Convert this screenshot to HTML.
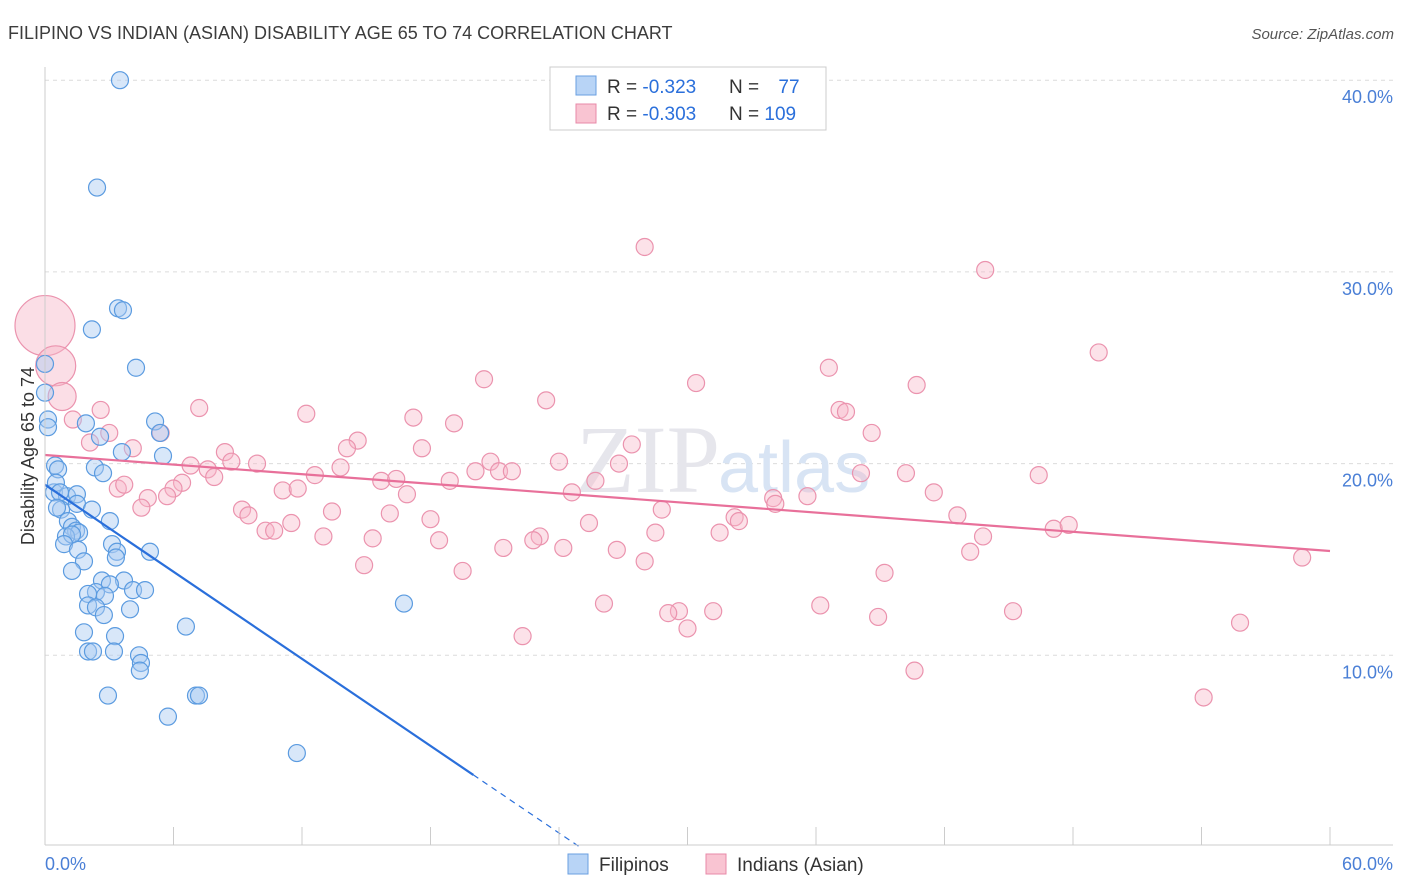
<!DOCTYPE html>
<html><head><meta charset="utf-8"><style>
body{margin:0;background:#fff;font-family:"Liberation Sans",sans-serif;}
svg{display:block}
</style></head><body>
<svg id="chart" width="1406" height="892" xmlns="http://www.w3.org/2000/svg">
<text x="8" y="39" font-size="18" fill="#3c3c3c">FILIPINO VS INDIAN (ASIAN) DISABILITY AGE 65 TO 74 CORRELATION CHART</text>
<text x="1394" y="39" font-size="15" fill="#555" font-style="italic" text-anchor="end">Source: ZipAtlas.com</text>
<g id="grid"></g>
<text x="720" y="492" font-size="96" fill="#e6e6ec" text-anchor="end" font-family="Liberation Serif, serif">ZIP</text>
<text x="718" y="492" font-size="72" fill="#d8e4f4">atlas</text>
<g id="pts"></g>
<g id="lines"></g>
<g id="axes"></g>
<text transform="translate(34,456) rotate(-90)" font-size="18" fill="#333" text-anchor="middle">Disability Age 65 to 74</text>
<text x="45" y="870" font-size="18" fill="#4a7fd6">0.0%</text>
<text x="1393" y="870" font-size="18" fill="#4a7fd6" text-anchor="end">60.0%</text>
<g>
<rect x="550" y="67" width="276" height="63" fill="#fff" stroke="#ccc"/>
<rect x="576" y="76" width="20" height="19" fill="#b8d4f6" stroke="#6a9fe0"/>
<rect x="576" y="104" width="20" height="19" fill="#f9c4d2" stroke="#e88aa8"/>
<text x="607" y="93" font-size="19" fill="#333">R = <tspan fill="#2a6fdb">-0.323</tspan></text>
<text x="729" y="93" font-size="19" fill="#333">N = <tspan fill="#2a6fdb" dx="14">77</tspan></text>
<text x="607" y="120" font-size="19" fill="#333">R = <tspan fill="#2a6fdb">-0.303</tspan></text>
<text x="729" y="120" font-size="19" fill="#333">N = <tspan fill="#2a6fdb">109</tspan></text>
</g>
<g>
<rect x="568" y="854" width="20" height="20" fill="#b8d4f6" stroke="#6a9fe0"/>
<text x="599" y="871" font-size="19" fill="#333">Filipinos</text>
<rect x="706" y="854" width="20" height="20" fill="#f9c4d2" stroke="#e88aa8"/>
<text x="737" y="871" font-size="19" fill="#333">Indians (Asian)</text>
</g>
</svg>
<script>
const yTicks=[10,20,30,40];
const yTickLabels=["10.0%","20.0%","30.0%","40.0%"];
const blueX=[3.5,2.43,3.41,3.64,2.19,4.25,0,0,0.14,0.14,5.14,5.37,1.91,2.57,3.59,5.51,0.47,0.61,2.33,2.71,0.42,1.03,1.49,0.51,0.7,0.75,0.56,1.49,2.19,3.03,1.07,1.26,1.45,1.59,0.98,1.26,0.89,1.54,1.82,3.13,3.36,3.31,4.9,1.26,2.66,3.69,3.03,2.38,2.01,2.8,4.11,4.67,2.01,2.38,3.97,2.75,1.82,3.27,6.58,16.76,2.01,2.24,3.22,4.39,4.48,4.43,2.94,7.05,7.19,5.74,11.76];
const blueY=[40,34.4,28.1,28,27,25,25.2,23.7,22.3,21.9,22.2,21.6,22.1,21.4,20.6,20.4,19.9,19.7,19.8,19.5,18.5,18.3,18.4,19,18.5,17.6,17.7,17.9,17.6,17,17,16.7,16.5,16.4,16.2,16.3,15.8,15.5,14.9,15.8,15.4,15.1,15.4,14.4,13.9,13.9,13.7,13.3,13.2,13.1,13.4,13.4,12.6,12.5,12.4,12.1,11.2,11,11.5,12.7,10.2,10.2,10.2,10,9.6,9.2,7.9,7.9,7.9,6.8,4.9];
const pinkX=[28,43.9,49.2,36.6,20.5,30.4,40.7,23.4,7.2,2.6,1.3,37.1,37.4,12.2,17.2,19.1,5.4,3,38.6,2.1,14.6,14.1,27.4,17.6,8.4,4.1,24,20.8,6.8,26.8,9.9,7.6,8.7,12.6,13.8,20.1,21.2,21.8,38.1,40.2,46.4,7.9,15.7,16.4,18.9,25.7,6.4,6,3.4,3.7,11.1,11.8,16.9,24.6,41.5,4.8,5.7,4.5,34,35.6,34.1,9.2,9.5,13.4,16.1,18,28.8,32.2,32.4,42.6,10.3,10.7,11.5,25.4,28.5,31.5,43.8,13,15.3,18.4,23.1,22.8,21.4,24.2,26.7,43.2,47.1,47.8,28,14.9,19.5,39.2,58.7,26.1,36.2,31.2,29.6,29.1,38.9,45.2,30,22.3,55.8,40.6,54.1];
const pinkY=[31.3,30.1,25.8,25,24.4,24.2,24.1,23.3,22.9,22.8,22.3,22.8,22.7,22.6,22.4,22.1,21.6,21.6,21.6,21.1,21.2,20.8,21,20.8,20.6,20.8,20.1,20.1,19.9,20,20,19.7,20.1,19.4,19.8,19.6,19.6,19.6,19.5,19.5,19.4,19.3,19.1,19.2,19.1,19.1,19,18.7,18.7,18.9,18.6,18.7,18.4,18.5,18.5,18.2,18.3,17.7,18.2,18.3,17.9,17.6,17.3,17.5,17.4,17.1,17.6,17.2,17,17.3,16.5,16.5,16.9,16.9,16.4,16.4,16.2,16.2,16.1,16,16.2,16,15.6,15.6,15.5,15.4,16.6,16.8,14.9,14.7,14.4,14.3,15.1,12.7,12.6,12.3,12.3,12.2,12,12.3,11.4,11,11.7,9.2,7.8];
const pinkBigX=[0,0.5,0.8];
const pinkBigY=[27.2,25.1,23.5];
const pinkBigR=[30,20,14];
const blueTrend=[18.9,-0.757];
const pinkTrend=[20.45,-0.0835];
const NS="http://www.w3.org/2000/svg";
const X=v=>45+v/60*1285;
const Y=v=>847-v*19.17;
function mk(tag,attrs,parent){const e=document.createElementNS(NS,tag);for(const k in attrs)e.setAttribute(k,attrs[k]);parent.appendChild(e);return e;}
const grid=document.getElementById('grid');
yTicks.forEach((t,i)=>{
 const l=mk('line',{x1:45,x2:1393,y1:Y(t),y2:Y(t),stroke:'#dcdcdc','stroke-dasharray':'4,4'},grid);
 
 
 const tx=mk('text',{x:1393,y:Y(t)+23,'font-size':18,fill:'#4a7fd6','text-anchor':'end'},grid);
 tx.textContent=yTickLabels[i];
 
 
});
const axes=document.getElementById('axes');
mk('line',{x1:45,x2:45,y1:67,y2:845,stroke:'#ccc'},axes);
mk('line',{x1:45,x2:1393,y1:845,y2:845,stroke:'#ccc'},axes);
for(let i=0;i<=10;i++){const t=mk('line',{x1:X(i*6),x2:X(i*6),y1:827,y2:845,stroke:'#ccc'},axes);
 
 }
const pts=document.getElementById('pts');
pinkBigX.forEach((x,i)=>{const c=mk('circle',{cx:X(x),cy:Y(pinkBigY[i]),r:pinkBigR[i],fill:'#f7b6c8','fill-opacity':0.45,stroke:'#eb93ae','stroke-width':1.2},pts);
 
 });
pinkX.forEach((x,i)=>{const c=mk('circle',{cx:X(x),cy:Y(pinkY[i]),r:8.5,fill:'#f7b6c8','fill-opacity':0.4,stroke:'#eb93ae','stroke-width':1.2},pts);
 
 });
blueX.forEach((x,i)=>{const c=mk('circle',{cx:X(x),cy:Y(blueY[i]),r:8.5,fill:'#a9c9f2','fill-opacity':0.45,stroke:'#5b9be0','stroke-width':1.2},pts);
 
 });
const lines=document.getElementById('lines');
const bx2=20, bx3=-blueTrend[0]/blueTrend[1];
let l=mk('line',{x1:X(0),y1:Y(blueTrend[0]),x2:X(bx2),y2:Y(blueTrend[0]+blueTrend[1]*bx2),stroke:'#2a6fdb','stroke-width':2.2},lines);


l=mk('line',{x1:X(bx2),y1:Y(blueTrend[0]+blueTrend[1]*bx2),x2:X(bx3),y2:Y(0),stroke:'#2a6fdb','stroke-width':1.2,'stroke-dasharray':'6,5'},lines);


l=mk('line',{x1:X(0),y1:Y(pinkTrend[0]),x2:X(60),y2:Y(pinkTrend[0]+pinkTrend[1]*60),stroke:'#e8709a','stroke-width':2.2},lines);


</script>
</body></html>
